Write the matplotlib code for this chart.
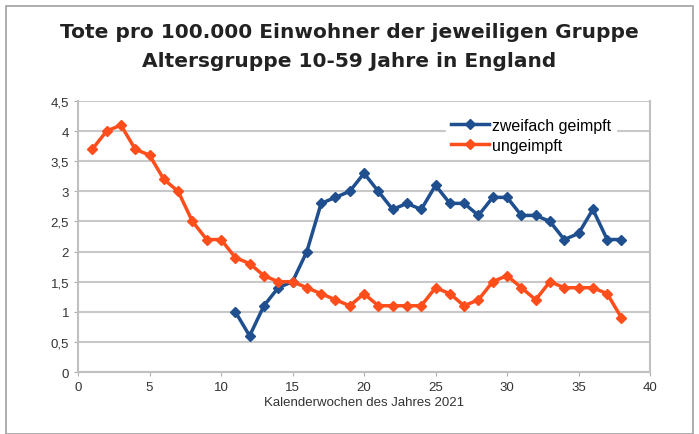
import matplotlib.pyplot as plt
from matplotlib.patches import Rectangle

# Daten (Kalenderwochen 2021)
wochen_ungeimpft = list(range(1, 39))
ungeimpft = [3.7, 4.0, 4.1, 3.7, 3.6, 3.2, 3.0, 2.5, 2.2, 2.2,
             1.9, 1.8, 1.6, 1.5, 1.5, 1.4, 1.3, 1.2, 1.1, 1.3,
             1.1, 1.1, 1.1, 1.1, 1.4, 1.3, 1.1, 1.2, 1.5, 1.6,
             1.4, 1.2, 1.5, 1.4, 1.4, 1.4, 1.3, 0.9]

wochen_geimpft = list(range(11, 39))
geimpft = [1.0, 0.6, 1.1, 1.4, 1.5, 2.0, 2.8, 2.9, 3.0, 3.3,
           3.0, 2.7, 2.8, 2.7, 3.1, 2.8, 2.8, 2.6, 2.9, 2.9,
           2.6, 2.6, 2.5, 2.2, 2.3, 2.7, 2.2, 2.2]

y_ticks = [0, 0.5, 1, 1.5, 2, 2.5, 3, 3.5, 4, 4.5]
y_labels = ["0", "0,5", "1", "1,5", "2", "2,5", "3", "3,5", "4", "4,5"]
x_ticks = [0, 5, 10, 15, 20, 25, 30, 35, 40]

blau = "#1f4f8f"
orange = "#ff4d1c"

plt.rcParams['font.family'] = ['Liberation Sans', 'DejaVu Sans']

fig = plt.figure(figsize=(6.99, 4.35), dpi=100)
fig.patches.append(Rectangle((0.008, 0.0), 0.984, 0.985, transform=fig.transFigure,
                             fill=False, edgecolor="#a0a0a0", linewidth=1.2))

fig.text(0.5, 0.925, "Tote pro 100.000 Einwohner der jeweiligen Gruppe",
         ha="center", va="center", fontsize=14.5, fontweight="bold", color="#222222",
         family="DejaVu Sans")
fig.text(0.5, 0.858, "Altersgruppe 10-59 Jahre in England",
         ha="center", va="center", fontsize=14.5, fontweight="bold", color="#222222",
         family="DejaVu Sans")

ax = fig.add_axes([0.1116, 0.1425, 0.8184, 0.623])
ax.plot(wochen_geimpft, geimpft, color=blau, linewidth=2.5, marker="D", markersize=5,
        label="zweifach geimpft")
ax.plot(wochen_ungeimpft, ungeimpft, color=orange, linewidth=2.5, marker="D", markersize=5,
        label="ungeimpft")

ax.set_xlim(0, 40)
ax.set_ylim(0, 4.5)
ax.set_xticks(x_ticks)
ax.set_yticks(y_ticks)
ax.set_yticklabels(y_labels)
ax.tick_params(labelsize=9.5, colors="#333333", length=3, color="#b0b0b0")
ax.grid(axis="y", color="#c8c8c8", linewidth=1.5)
ax.set_axisbelow(True)
ax.spines["top"].set_visible(False)
for s in ["left", "bottom", "right"]:
    ax.spines[s].set_color("#c0c0c0")
    ax.spines[s].set_linewidth(1.5)

ax.set_xlabel("Kalenderwochen des Jahres 2021", fontsize=9.5, color="#333333", labelpad=2)

leg = ax.legend(loc="upper right", bbox_to_anchor=(0.955, 0.985), frameon=True,
                fontsize=11.5, handlelength=2.4, handletextpad=0.2, labelspacing=0.3,
                borderpad=0.3)
leg.get_frame().set_edgecolor("white")
leg.get_frame().set_facecolor("white")
leg.get_frame().set_alpha(1)

fig.savefig("out.png", dpi=100)
